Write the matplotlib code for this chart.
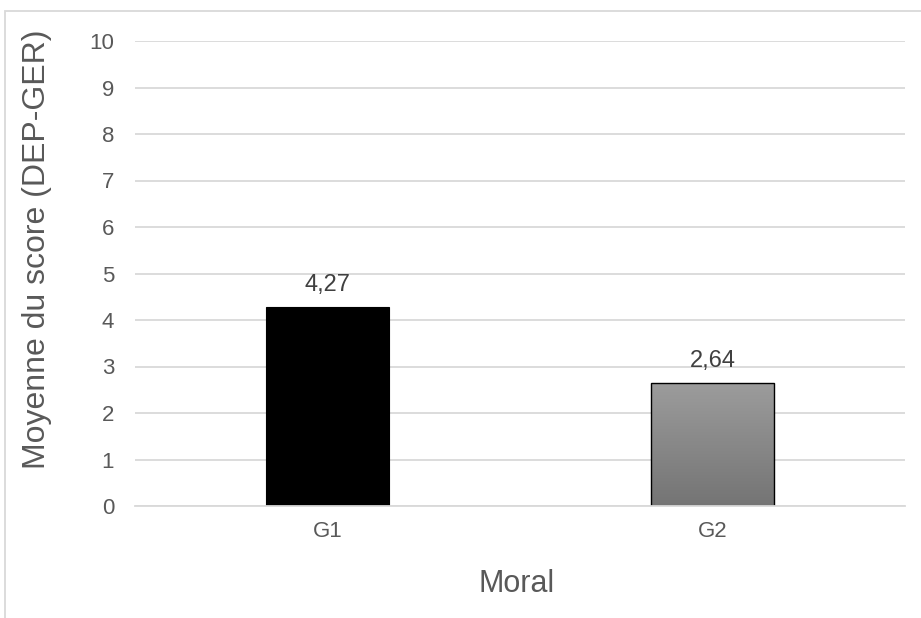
import matplotlib.pyplot as plt
import numpy as np
from matplotlib.patches import Rectangle

plt.rcParams['font.family'] = ['Liberation Sans', 'DejaVu Sans']

groups = ['G1', 'G2']
scores = [4.27, 2.64]
value_labels = ['4,27', '2,64']
y_ticks = list(range(0, 11))

text_color = '#595959'
grid_color = '#d9d9d9'

fig = plt.figure(figsize=(9.21, 6.18), dpi=100)
ax = fig.add_axes([135 / 921, 112 / 618, 770 / 921, 465 / 618])

# light chart-area frame, running off the right and bottom edges
fig.patches.append(Rectangle((5 / 921, -0.1), 1.2, (618 - 11) / 618 + 0.1,
                             transform=fig.transFigure, fill=False,
                             edgecolor=grid_color, linewidth=1.3))

x = np.arange(len(groups))
bars = ax.bar(x, scores, width=0.32, zorder=3)

# first bar: solid black
bars[0].set_facecolor('black')
bars[0].set_edgecolor('black')
bars[0].set_linewidth(0.8)

# second bar: vertical grey gradient with a black outline
b = bars[1]
b.set_facecolor('none')
b.set_edgecolor('black')
b.set_linewidth(1.0)
bx, by = b.get_x(), b.get_y()
bw, bh = b.get_width(), b.get_height()
grad = np.linspace(0, 1, 256).reshape(-1, 1)
cmap = plt.matplotlib.colors.LinearSegmentedColormap.from_list('g', ['#747474', '#9c9c9c'])
im = ax.imshow(grad, cmap=cmap, origin='lower', aspect='auto',
               extent=(bx, bx + bw, by, by + bh), zorder=2.5)
im.set_clip_path(b)

for bar, lab in zip(bars, value_labels):
    ax.annotate(lab, (bar.get_x() + bar.get_width() / 2, bar.get_height()),
                xytext=(0, 12), textcoords='offset points', ha='center', va='baseline',
                fontsize=17, color='#404040')

ax.set_xlim(-0.5, 1.5)
ax.set_ylim(0, 10)
ax.set_yticks(y_ticks)
ax.set_xticks(x)
ax.set_xticklabels(groups)
ax.yaxis.grid(True, color=grid_color, linewidth=1.3, zorder=0)
ax.set_axisbelow(True)

for s in ['top', 'right', 'left']:
    ax.spines[s].set_visible(False)
ax.spines['bottom'].set_color(grid_color)
ax.spines['bottom'].set_linewidth(1.3)
ax.spines['bottom'].set_zorder(4)

ax.tick_params(axis='both', length=0, labelsize=16, labelcolor=text_color)
ax.tick_params(axis='y', pad=15)
ax.tick_params(axis='x', pad=11)

ax.set_ylabel('Moyenne du score (DEP-GER)', fontsize=23, color=text_color)
ax.yaxis.set_label_coords(-0.108, 0.553)
fig.text(517 / 921, 26 / 618, 'Moral', ha='center', va='baseline',
         fontsize=22, color=text_color)

fig.savefig('out.png', dpi=100)
